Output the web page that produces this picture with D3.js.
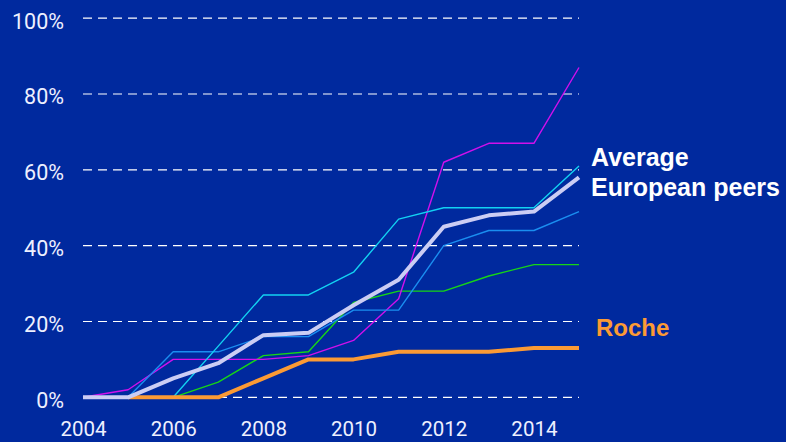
<!DOCTYPE html>
<html>
<head>
<meta charset="utf-8">
<script src="https://cdn.jsdelivr.net/npm/d3@7"></script>
<style>
  html, body { margin: 0; padding: 0; background: #00299e; }
  svg { display: block; }
</style>
</head>
<body>
<script>
const years = [2004, 2005, 2006, 2007, 2008, 2009, 2010, 2011, 2012, 2013, 2014, 2015];
const xTicks = [2004, 2006, 2008, 2010, 2012, 2014];
const yTicks = [0, 20, 40, 60, 80, 100];
const peerMagenta = [0, 2, 10, 10, 10, 11, 15, 26, 62, 67, 67, 87];
const peerCyan    = [0, 0, 0, 13.5, 27, 27, 33, 47, 50, 50, 50, 61];
const peerBlue    = [0, 0, 12, 12, 16, 16, 23, 23, 40, 44, 44, 49];
const peerGreen   = [0, 0, 0, 4, 11, 12, 25, 28, 28, 32, 35, 35];
const average     = [0, 0, 5, 9, 16.4, 17, 24.3, 31, 45, 48, 49, 58];
const roche       = [null, 0, 0, 0, 5, 10, 10, 12, 12, 12, 13, 13];
const labelAverage = ["Average", "European peers"];
const labelRoche = "Roche";

const W = 786, H = 442;
const svg = d3.select("body").append("svg").attr("width", W).attr("height", H);
svg.append("rect").attr("width", W).attr("height", H).attr("fill", "#00299e");

const x = d3.scaleLinear().domain([2004, 2015]).range([83, 579]);
const y = d3.scaleLinear().domain([0, 100]).range([397.3, 18.2]);

// gridlines
svg.append("g").selectAll("line").data(yTicks).join("line")
  .attr("x1", x(2004)).attr("x2", x(2015))
  .attr("y1", d => y(d)).attr("y2", d => y(d))
  .attr("stroke", "#ffffff").attr("stroke-width", 1.2)
  .attr("stroke-dasharray", "9,6");

// y axis
const yAxis = d3.axisLeft(y).tickValues(yTicks).tickFormat(d => d + "%").tickSize(0).tickPadding(0);
const gy = svg.append("g").attr("transform", "translate(64,3)").call(yAxis);
gy.select(".domain").remove();
gy.selectAll("text").attr("fill", "#eef0ff").style("font-family", "Roboto, sans-serif").style("font-size", "21.5px");

// x axis
const xAxis = d3.axisBottom(x).tickValues(xTicks).tickFormat(d3.format("d")).tickSize(0).tickPadding(0);
const gx = svg.append("g").attr("transform", "translate(0,421.5)").call(xAxis);
gx.select(".domain").remove();
gx.selectAll("text").attr("fill", "#eef0ff").attr("dy", "0.71em").style("font-family", "Roboto, sans-serif").style("font-size", "20.5px");

const line = d3.line().defined(d => d[1] !== null).x(d => x(d[0])).y(d => y(d[1]));
const series = [
  { v: peerGreen,   c: "#16d616", w: 1.4 },
  { v: peerMagenta, c: "#d010ec", w: 1.4 },
  { v: peerBlue,    c: "#1a8ef0", w: 1.4 },
  { v: peerCyan,    c: "#12d2f2", w: 1.4 },
  { v: roche,       c: "#fb9a34", w: 4 },
  { v: average,     c: "#cbcdf4", w: 4 }
];
svg.append("g").selectAll("path").data(series).join("path")
  .attr("d", s => line(years.map((yr, i) => [yr, s.v[i]])))
  .attr("fill", "none").attr("stroke", s => s.c).attr("stroke-width", s => s.w)
  .attr("stroke-linejoin", "round");

// labels
const lab = svg.append("text").attr("x", 591).attr("y", 166)
  .attr("fill", "#ffffff").style("font-family", "'Liberation Sans', Arial, sans-serif")
  .style("font-weight", "bold").style("font-size", "25px");
lab.selectAll("tspan").data(labelAverage).join("tspan")
  .attr("x", 591).attr("dy", (d, i) => i === 0 ? 0 : 30).text(d => d);

svg.append("text").attr("x", 596).attr("y", 336).attr("fill", "#fb9a34")
  .style("font-family", "'Liberation Sans', Arial, sans-serif")
  .style("font-weight", "bold").style("font-size", "24px").text(labelRoche);
</script>
</body>
</html>
